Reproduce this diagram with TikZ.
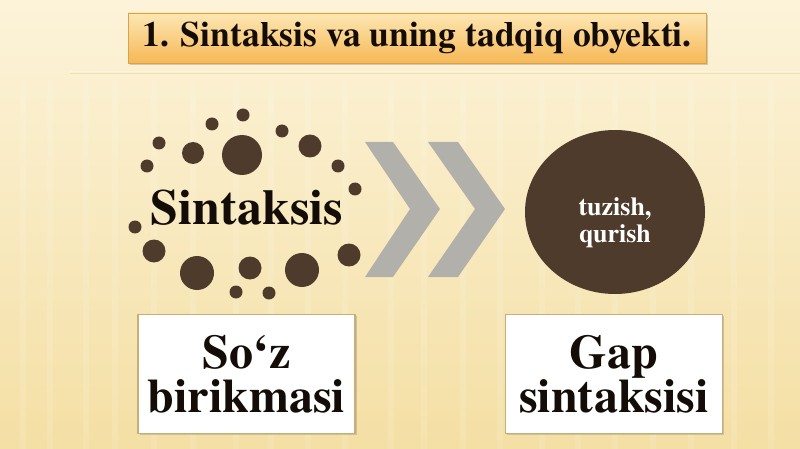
\documentclass[tikz,border=0pt]{standalone}
\usepackage{fontspec}
\newfontfamily\tnrb{texgyretermes-bold}[Extension=.otf]
\usetikzlibrary{shadows,shapes.geometric}
\definecolor{bgtop}{HTML}{FCF3D9}
\definecolor{bgbot}{HTML}{F4DFA4}
\definecolor{dotc}{HTML}{4E3B2B}
\definecolor{chev}{HTML}{B2B0AA}
\definecolor{titletop}{HTML}{FDE7B4}
\definecolor{titlebot}{HTML}{F6B856}
\definecolor{titleedge}{HTML}{D9A148}
\definecolor{boxedge}{HTML}{C9AE78}
\definecolor{inktext}{HTML}{140C06}
\tikzset{
  dot/.style={fill=dotc},
  chevron/.style={fill=chev},
  wordbox/.style={draw=boxedge, line width=1.2pt, fill=white, drop shadow={shadow xshift=1.5pt, shadow yshift=-1.5pt, opacity=.35},
    minimum width=217pt, minimum height=119pt, align=center, inner sep=0pt,
    font=\fontsize{48}{44}\selectfont\tnrb, text=inktext},
}
\begin{document}
\begin{tikzpicture}[x=1pt,y=-1pt]
\useasboundingbox (0,0) rectangle (800,449);
% background
\shade[top color=bgtop, bottom color=bgbot] (0,0) rectangle (800,449);
\foreach \x in {20,47,83,112,151,190,233,268,305,342,388,421,460,497,539,575,612,650,688,731,768}
  \fill[white, opacity=.12] (\x,80) rectangle ++(6,369);
\draw[draw=white!70!bgbot, line width=1pt] (70,72) -- (800,72);
\draw[draw=bgbot!85!brown, line width=.6pt, opacity=.5] (70,73.5) -- (800,73.5);
% title
\node[draw=titleedge, line width=.8pt, top color=titletop, bottom color=titlebot,
  drop shadow={shadow xshift=1.5pt, shadow yshift=-2.5pt, opacity=.35},
  minimum width=578pt, minimum height=50pt, inner sep=0pt,
  font=\fontsize{35.5}{40}\selectfont\tnrb, text=inktext] (title) at (417,38)
  {1. Sintaksis va uning tadqiq obyekti.};
% dots ring
\foreach \px/\py/\r [count=\i] in {243/115/6.5, 212/124/6.5, 282/131/6.5, 159/143/6.5, 242/155/20, 193/153/11,
  310/146/11.5, 147/166/6.5, 338/166/6.5, 355/189/6.5, 135/227/6.5, 154/251/11.5, 197/273/17,
  250/268/11.5, 302/270/17, 349/255/11.5, 236/292/6.5, 269/293/6.5}
  \fill[dot] (\px,\py) circle (\r);
\node[font=\fontsize{50}{50}\selectfont\tnrb, text=inktext, inner sep=0pt] (sint) at (247,208) {Sintaksis};
% chevrons
\fill[chevron] (365,142) -- (393,142) -- (440,209) -- (393,277) -- (365,277) -- (410,209) -- cycle;
\fill[chevron] (428,142) -- (458,142) -- (505,209) -- (458,277) -- (428,277) -- (475,209) -- cycle;
% dark circle
\node[ellipse, fill=dotc, minimum width=180pt, minimum height=164pt, inner sep=0pt] (tuz) at (615,212) {};
\node[align=center, text=white, inner sep=0pt, font=\fontsize{26}{27}\selectfont\tnrb] (tuzlbl) at (615,223) {tuzish,\\qurish};
% boxes
\node[wordbox] (soz) at (246.5,374) {So‘z\\birikmasi};
\node[wordbox] (gap) at (614,374) {Gap\\sintaksisi};
\end{tikzpicture}
\end{document}
